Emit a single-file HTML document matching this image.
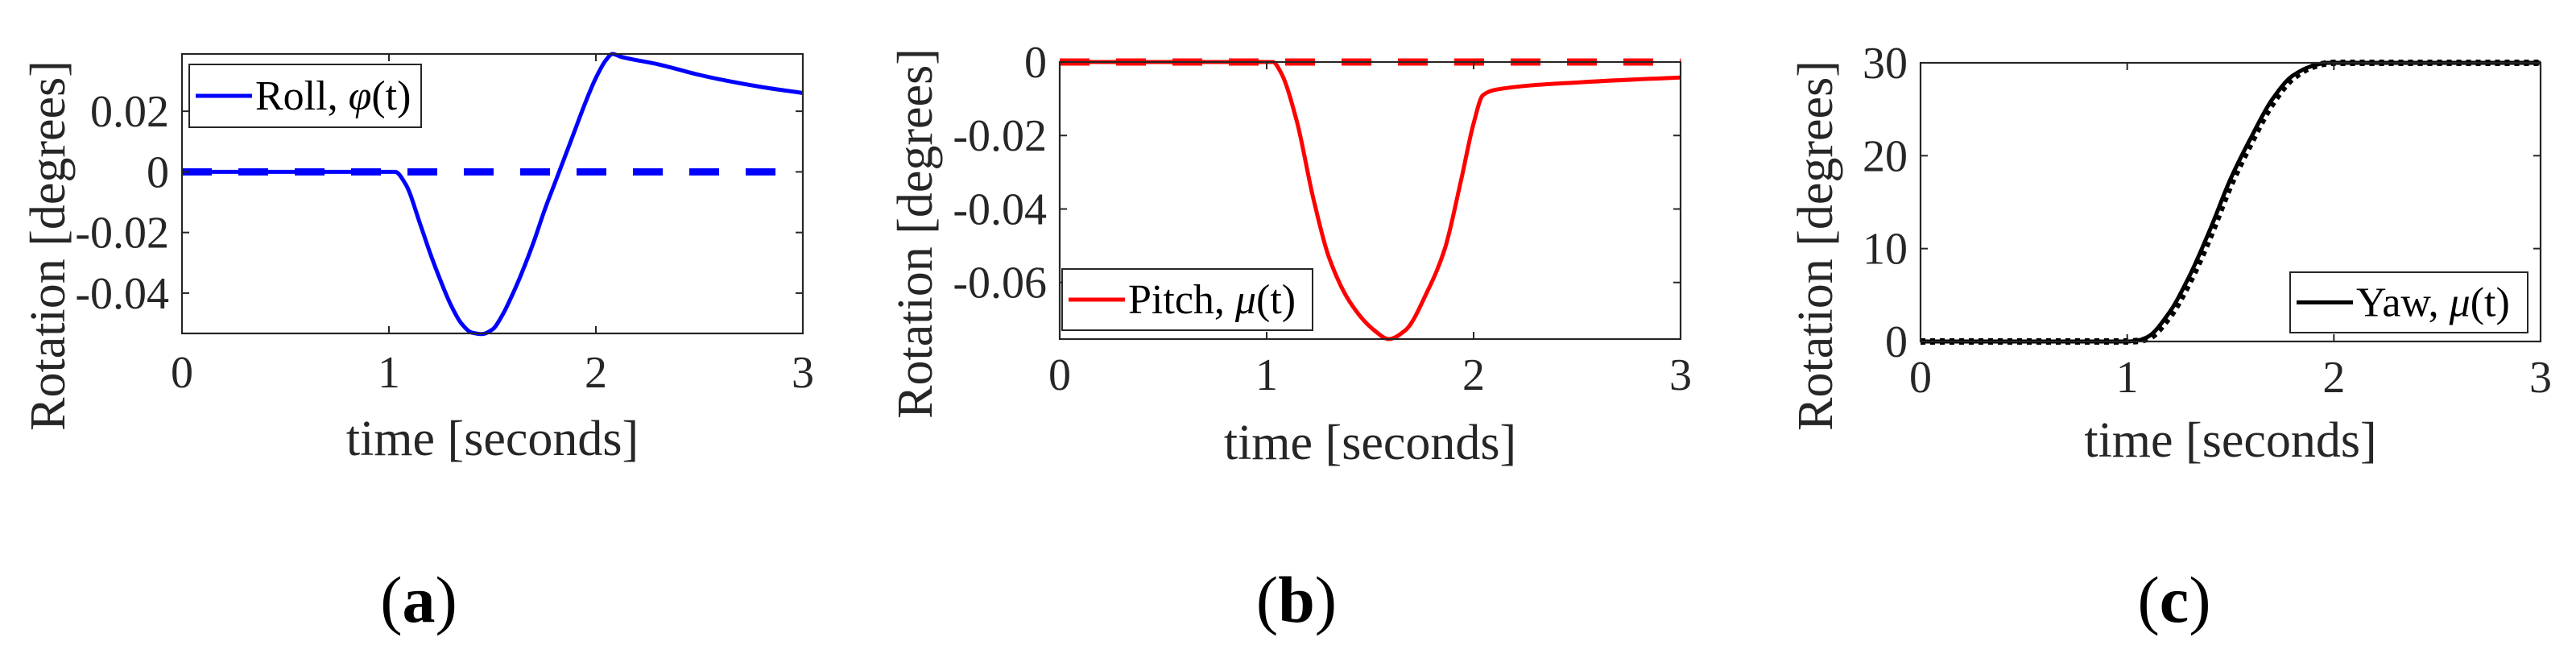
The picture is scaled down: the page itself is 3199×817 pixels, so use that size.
<!DOCTYPE html>
<html><head><meta charset="utf-8"><style>
html,body{margin:0;padding:0;background:#fff;}
svg{display:block;font-family:"Liberation Serif",serif;}
</style></head><body>
<svg id="s" width="3199" height="817" viewBox="0 0 3199 817" xmlns="http://www.w3.org/2000/svg"></svg>
<script>
const rollT=[0,1,1.03,1.08,1.15,1.2,1.25,1.3,1.35,1.4,1.45,1.5,1.55,1.6,1.65,1.7,1.75,1.8,1.85,1.9,1.95,2.0,2.05,2.08,2.12,2.3,2.5,2.6,2.8,3];
const rollV=[0,0,0,-0.004,-0.017,-0.027,-0.036,-0.044,-0.050,-0.053,-0.0535,-0.052,-0.047,-0.040,-0.032,-0.023,-0.013,-0.004,0.005,0.014,0.023,0.031,0.037,0.0389,0.038,0.0355,0.032,0.0305,0.028,0.026];
const pitchT=[0,1,1.03,1.07,1.145,1.225,1.3,1.41,1.52,1.59,1.67,1.78,1.86,1.94,2.0,2.045,2.11,2.52,3];
const pitchV=[0,0,0,-0.003,-0.016,-0.037,-0.053,-0.066,-0.073,-0.0754,-0.073,-0.062,-0.051,-0.032,-0.0167,-0.009,-0.0075,-0.0055,-0.0042];
const yawT=[0,1,1.05,1.1,1.2,1.3,1.4,1.5,1.6,1.7,1.8,1.9,1.97,2,3];
const yawV=[0,0,0.1,0.5,3,7,12,17.5,22,26,28.6,29.7,30,30,30];
const yawRefV=[0,0,0.05,0.3,2.5,6.3,11.2,16.8,21.4,25.5,28.3,29.6,29.95,30,30];
const refT=[0,3];
const rollRef=[0,0], pitchRef=[0,0];
const xTicks=[0,1,2,3];
const rollTicks=[0.02,0,-0.02,-0.04], rollTickLabels=["0.02","0","-0.02","-0.04"];
const pitchTicks=[0,-0.02,-0.04,-0.06], pitchTickLabels=["0","-0.02","-0.04","-0.06"];
const yawTicks=[0,10,20,30], yawTickLabels=["0","10","20","30"];

const NS="http://www.w3.org/2000/svg", S=document.getElementById('s');
function el(tag,attrs,parent,text){const e=document.createElementNS(NS,tag);for(const k in attrs)e.setAttribute(k,attrs[k]);if(text!==undefined)e.textContent=text;(parent||S).appendChild(e);return e;}

// monotone cubic path (Fritsch-Carlson)
function monoPath(X,Y){
  const n=X.length; if(n<3){let d='';X.forEach((x,i)=>d+=(i?'L':'M')+x.toFixed(1)+','+Y[i].toFixed(1));return d;}
  const dx=[],m=[],t=[];
  for(let i=0;i<n-1;i++){dx[i]=X[i+1]-X[i];m[i]=(Y[i+1]-Y[i])/dx[i];}
  t[0]=m[0];t[n-1]=m[n-2];
  for(let i=1;i<n-1;i++){ if(m[i-1]*m[i]<=0)t[i]=0; else {const w1=2*dx[i]+dx[i-1],w2=dx[i]+2*dx[i-1];t[i]=(w1+w2)/(w1/m[i-1]+w2/m[i]);} }
  let d='M'+X[0].toFixed(1)+','+Y[0].toFixed(1);
  for(let i=0;i<n-1;i++){const h=dx[i]/3;
    d+='C'+(X[i]+h).toFixed(1)+','+(Y[i]+t[i]*h).toFixed(1)+' '+(X[i+1]-h).toFixed(1)+','+(Y[i+1]-t[i+1]*h).toFixed(1)+' '+X[i+1].toFixed(1)+','+Y[i+1].toFixed(1);}
  return d;
}

function panel(cfg){
  const g=el('g',{});
  
  
  const {L,R,T,B,ymin,ymax}=cfg;
  const xs=t=>L+(t/3)*(R-L), ys=v=>B-(v-ymin)/(ymax-ymin)*(B-T);
  cfg.series.forEach(s=>{
    const d=monoPath(s.t.map(xs),s.v.map(ys));
    const p=el('path',{d:d,fill:'none',stroke:s.color,'stroke-width':s.w,'stroke-linejoin':'round','stroke-dasharray':s.dash||'none'},g);
    
    
  });
  const box=el('rect',{x:L,y:T,width:R-L,height:B-T,fill:'none',stroke:'#262626','stroke-width':2.2},g);
  
  
  xTicks.forEach(t=>{
    const x=xs(t);
    el('line',{x1:x,y1:B,x2:x,y2:B-9,stroke:'#262626','stroke-width':2},g);
    el('line',{x1:x,y1:T,x2:x,y2:T+9,stroke:'#262626','stroke-width':2},g);
    const tl=el('text',{x:x,y:cfg.xtY,'font-size':56,'text-anchor':'middle',fill:'#262626'},g,String(t));
    
    
  });
  cfg.yt.forEach((v,i)=>{
    const y=ys(v);
    el('line',{x1:L,y1:y,x2:L+9,y2:y,stroke:'#262626','stroke-width':2},g);
    el('line',{x1:R,y1:y,x2:R-9,y2:y,stroke:'#262626','stroke-width':2},g);
    const tl=el('text',{x:L-16,y:y+19,'font-size':56,'text-anchor':'end',fill:'#262626'},g,cfg.ytl[i]);
    
    
  });
  const xl=el('text',{x:(L+R)/2,y:cfg.xlY,'font-size':62,'text-anchor':'middle',fill:'#262626'},g,'time [seconds]');
  
  
  const yl=el('text',{x:0,y:0,'font-size':62,'text-anchor':'middle',fill:'#262626',transform:`translate(${cfg.ylX},${cfg.ylY}) rotate(-90)`},g,'Rotation [degrees]');
  
  
  const lg=el('g',{},g);
  
  
  const [lx,ly,lw,lh]=cfg.leg;
  el('rect',{x:lx,y:ly,width:lw,height:lh,fill:'#fff',stroke:'#262626','stroke-width':2},lg);
  el('line',{x1:lx+8,y1:ly+lh/2,x2:lx+78,y2:ly+lh/2,stroke:cfg.color,'stroke-width':5},lg);
  const lt=el('text',{x:lx+82,y:ly+lh/2+17,'font-size':52,fill:'#000'},lg);
  el('tspan',{},lt,cfg.legName+', ');
  el('tspan',{'font-style':'italic'},lt,cfg.sym);
  el('tspan',{},lt,'(t)');
  const cap=el('text',{x:cfg.capX,y:772,'font-size':82,'text-anchor':'middle',fill:'#000'},g);
  
  
  el('tspan',{},cap,'(');
  el('tspan',{'font-weight':'bold'},cap,cfg.cap);
  el('tspan',{},cap,')');
}

panel({name:'roll-panel',L:226,R:997,T:67,B:414,ymin:-0.0533,ymax:0.0389,yt:rollTicks,ytl:rollTickLabels,
  series:[{name:'roll-reference-dashed',t:refT,v:rollRef,color:'#0000ff',w:9,dash:'37 33'},{name:'roll-line',t:rollT,v:rollV,color:'#0000ff',w:5}],
  xtY:481,xlY:565,ylX:80,ylY:305,leg:[235,80,288,78],color:'#0000ff',legName:'Roll',sym:'φ',capX:520,cap:'a'});
panel({name:'pitch-panel',L:1316,R:2087,T:77,B:421,ymin:-0.0754,ymax:0.0,yt:pitchTicks,ytl:pitchTickLabels,
  series:[{name:'pitch-reference-dashed',t:refT,v:pitchRef,color:'#ff0000',w:9,dash:'37 33'},{name:'pitch-line',t:pitchT,v:pitchV,color:'#ff0000',w:5}],
  xtY:484,xlY:570,ylX:1157,ylY:290,leg:[1319,334,311,76],color:'#ff0000',legName:'Pitch',sym:'μ',capX:1610,cap:'b'});
panel({name:'yaw-panel',L:2385,R:3155,T:78,B:424,ymin:0,ymax:30,yt:yawTicks,ytl:yawTickLabels,
  series:[{name:'yaw-reference-dotted',t:yawT,v:yawRefV,color:'#000',w:8,dash:'6 6'},{name:'yaw-line',t:yawT,v:yawV,color:'#000',w:5}],
  xtY:487,xlY:567,ylX:2275,ylY:305,leg:[2844,338,295,75],color:'#000',legName:'Yaw',sym:'μ',capX:2700,cap:'c'});
</script>
</body></html>
